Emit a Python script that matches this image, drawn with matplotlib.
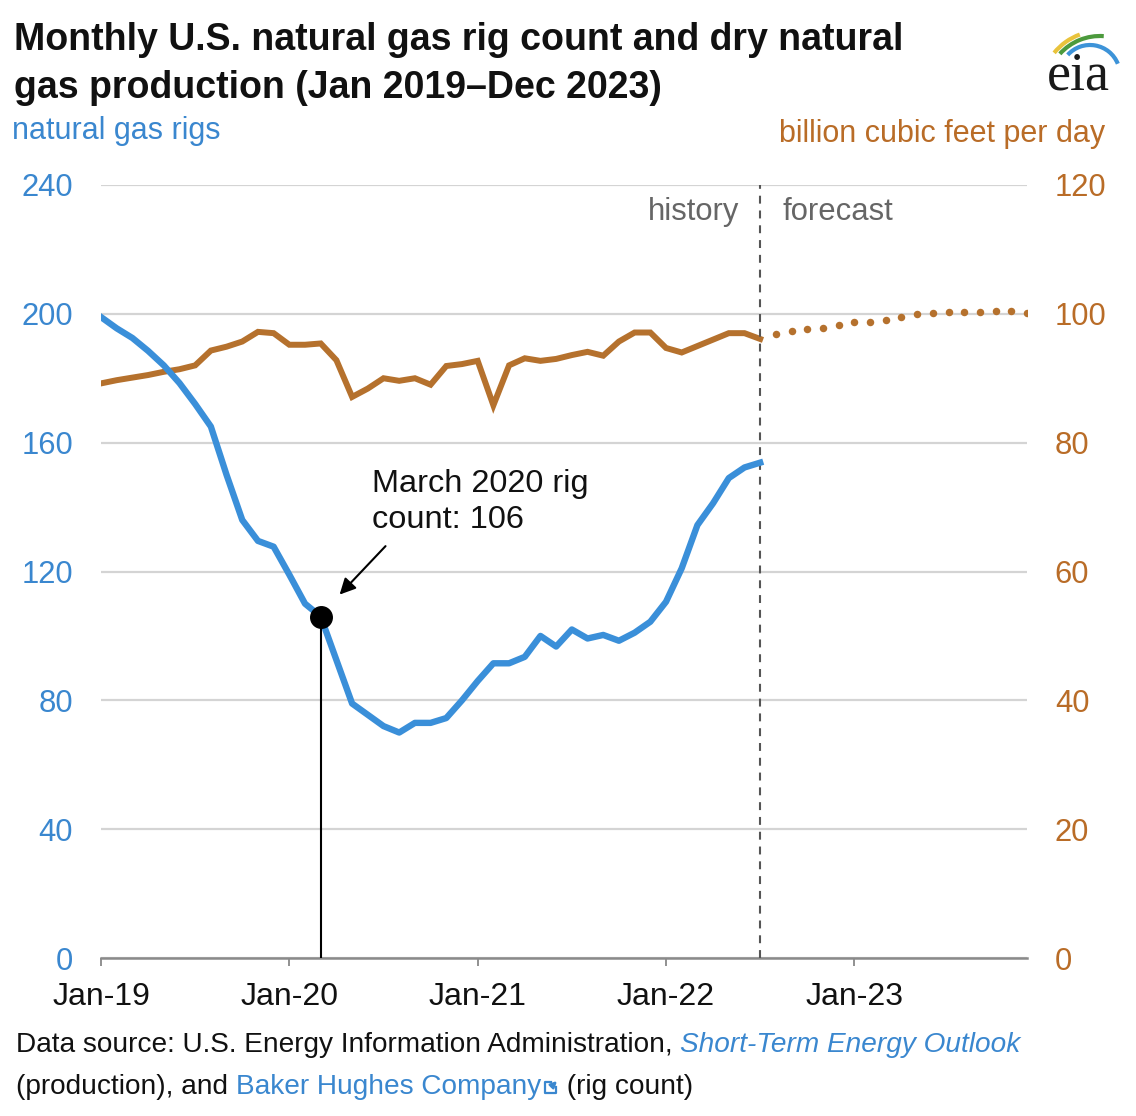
import matplotlib
matplotlib.use("Agg")
import matplotlib.pyplot as plt
import numpy as np
import pandas as pd
from matplotlib.patches import Arc

plt.rcParams['font.family'] = ['Liberation Sans', 'DejaVu Sans']

# monthly axis Jan 2019 - Dec 2023
months = pd.date_range("2019-01-01", "2023-12-01", freq="MS")
tick_months = ["Jan-19", "Jan-20", "Jan-21", "Jan-22", "Jan-23"]

# natural gas rig count (Jan 2019 - Jul 2022)
rigs = [199, 195.5, 192.5, 188.5, 184, 178.5, 172, 165, 150, 136, 129.5, 127.7,
        119, 110, 106, 92.5, 79, 75.5, 72, 70, 73, 73, 74.5, 80,
        86, 91.5, 91.5, 93.5, 100, 96.7, 102, 99.2, 100.3, 98.5, 101, 104.4,
        110.6, 121, 134.4, 141.2, 149, 152.3, 153.8]

# dry gas production, bcf/d, history (Jan 2019 - Jul 2022)
prod_hist = [89.2, 89.7, 90.1, 90.5, 91.0, 91.4, 92.0, 94.3, 94.9, 95.7, 97.2, 97.0,
             95.2, 95.2, 95.4, 92.8, 87.1, 88.4, 90.0, 89.6, 90.0, 89.0, 91.9, 92.2,
             92.7, 85.8, 92.0, 93.1, 92.7, 93.0, 93.6, 94.1, 93.5, 95.7, 97.1, 97.1,
             94.7, 94.0, 95.0, 96.0, 97.0, 97.0, 96.1]

# forecast (Aug 2022 - Dec 2023)
prod_fcst = [96.8, 97.3, 97.7, 97.85, 98.3, 98.7, 98.7, 99.0, 99.5, 99.9, 100.2,
             100.3, 100.3, 100.3, 100.4, 100.5, 100.2]

mar20_label = "March 2020 rig\ncount: 106"

BLUE = "#3a8fd9"
BLUE_TXT = "#3a87cf"
BROWN = "#b5712d"
BROWN_TXT = "#b96c27"
GRID = "#d4d4d4"

W, H = 1136, 1116
fig = plt.figure(figsize=(W / 100, H / 100), dpi=100)
fig.patch.set_facecolor("white")

x = np.arange(len(months))
x_hist = x[:len(rigs)]
x_fcst = x[len(prod_hist):len(prod_hist) + len(prod_fcst)]
i_hist_end = len(rigs) - 1
i_mar20 = list(months).index(pd.Timestamp("2020-03-01"))

rect = [101 / W, 1 - 958 / H, (1027 - 101) / W, (958 - 185) / H]
ax2 = fig.add_axes(rect)          # production (right) - drawn underneath
ax = fig.add_axes(rect, sharex=ax2)  # rigs (left) on top
ax.patch.set_visible(False)

# right axis: production
ax2.set_ylim(0, 120)
ax2.set_yticks(np.arange(0, 121, 20))
ax2.yaxis.tick_right()
ax2.grid(axis="y", color=GRID, lw=1.6)
ax2.set_axisbelow(True)
ax2.plot(x_hist, prod_hist, color=BROWN, lw=4.3, solid_joinstyle="miter", zorder=3)
ax2.plot(x_fcst, prod_fcst, color=BROWN, ls="none", marker="o", ms=5.4, mec="none", zorder=3)
ax2.tick_params(axis="y", length=0, pad=20, labelsize=22.3, labelcolor=BROWN_TXT)
ax2.tick_params(axis="x", length=6, width=1.3, color="#888888", pad=11,
                labelsize=23, labelcolor="#111111")
for s in ["top", "left", "right"]:
    ax2.spines[s].set_visible(False)
ax2.spines["bottom"].set_color("#8a8a8a")
ax2.spines["bottom"].set_linewidth(1.8)

# left axis: rigs
ax.set_ylim(0, 240)
ax.set_yticks(np.arange(0, 241, 40))
ax.plot(x_hist, rigs, color=BLUE, lw=4.6, solid_joinstyle="round", zorder=4)
ax.tick_params(axis="y", length=0, pad=20, labelsize=22.3, labelcolor=BLUE_TXT)
ax.tick_params(axis="x", bottom=False, labelbottom=False)
for s in ax.spines.values():
    s.set_visible(False)

ax2.set_xlim(0, len(months) - 1)
ax2.set_xticks([i for i, m in enumerate(months) if m.month == 1])
ax2.set_xticklabels(tick_months)

# history / forecast divider
ax.axvline(i_hist_end, color="#555555", lw=1.5, dashes=(3.8, 3.3), zorder=2)
ax.text(i_hist_end - 1.35, 231.5, "history", ha="right", va="center", fontsize=22.3, color="#666666")
ax.text(i_hist_end + 1.4, 231.5, "forecast", ha="left", va="center", fontsize=22.3, color="#666666")

# March 2020 callout
ax.plot([i_mar20, i_mar20], [0, rigs[i_mar20]], color="black", lw=1.5, zorder=5)
ax.plot(i_mar20, rigs[i_mar20], "o", color="black", ms=15.5, zorder=6)
ax.annotate("", xy=(i_mar20 + 1.08, rigs[i_mar20] + 6.2), xytext=(i_mar20 + 4.25, 128.5),
            arrowprops=dict(arrowstyle="-|>", color="black", lw=1.5, mutation_scale=24),
            zorder=6)
ax.text(17.25, 151.8, mar20_label, ha="left", va="top", fontsize=23.4, color="#111111",
        linespacing=1.24)

# title and axis unit labels
fig.text(14 / W, 1 - 40 / H, "Monthly U.S. natural gas rig count and dry natural",
         fontsize=27, fontweight="bold", color="#111111", va="center")
fig.text(14 / W, 1 - 88 / H, "gas production (Jan 2019\u2013Dec 2023)",
         fontsize=27, fontweight="bold", color="#111111", va="center")
fig.text(12 / W, 1 - 131 / H, "natural gas rigs", fontsize=22, color=BLUE_TXT, va="center")
fig.text(1105 / W, 1 - 134 / H, "billion cubic feet per day", fontsize=22,
         color=BROWN_TXT, va="center", ha="right")

# eia logo (1 unit = 1 px)
lax = fig.add_axes([1030 / W, 1 - 100 / H, 90 / W, 75 / H])
lax.set_xlim(0, 90)
lax.set_ylim(0, 75)
lax.axis("off")
lax.text(48.5, 10, "eia", ha="center", va="baseline", fontsize=39,
         family=["Liberation Serif", "DejaVu Serif"], color="#1a1a1a")
lax.add_patch(Arc((70, 10), 118, 118, theta1=110, theta2=141, color="#e9c33c", lw=3.0))
lax.add_patch(Arc((70, 10), 108, 108, theta1=86, theta2=138, color="#4c9a3d", lw=3.0))
lax.add_patch(Arc((60, 25), 60, 60, theta1=22, theta2=138, color="#3d93d8", lw=3.0))

# source note with mixed styles
renderer = fig.canvas.get_renderer()


def put_run(parts, px, py):
    for txt, color, style in parts:
        t = fig.text(px / W, 1 - py / H, txt, fontsize=20.2, color=color,
                     style=style, va="center", ha="left")
        bb = t.get_window_extent(renderer=renderer)
        px += bb.width
    return px


put_run([("Data source: U.S. Energy Information Administration, ", "#111111", "normal"),
         ("Short-Term Energy Outlook", BLUE_TXT, "italic")], 16, 1045)
end = put_run([("(production), and ", "#111111", "normal"),
               ("Baker Hughes Company", BLUE_TXT, "normal")], 16, 1087)
# external link icon
iax = fig.add_axes([(end + 2) / W, 1 - 1095 / H, 16 / W, 16 / H])
iax.set_xlim(0, 10)
iax.set_ylim(0, 10)
iax.axis("off")
iax.plot([5, 1, 1, 8, 8], [8, 8, 1, 1, 5], color=BLUE_TXT, lw=1.6)
iax.annotate("", xy=(10, 10), xytext=(4.2, 4.2),
             arrowprops=dict(arrowstyle="-|>", color=BLUE_TXT, lw=1.8, mutation_scale=9))
put_run([(" (rig count)", "#111111", "normal")], end + 18, 1087)

fig.savefig("out.png", dpi=100)
